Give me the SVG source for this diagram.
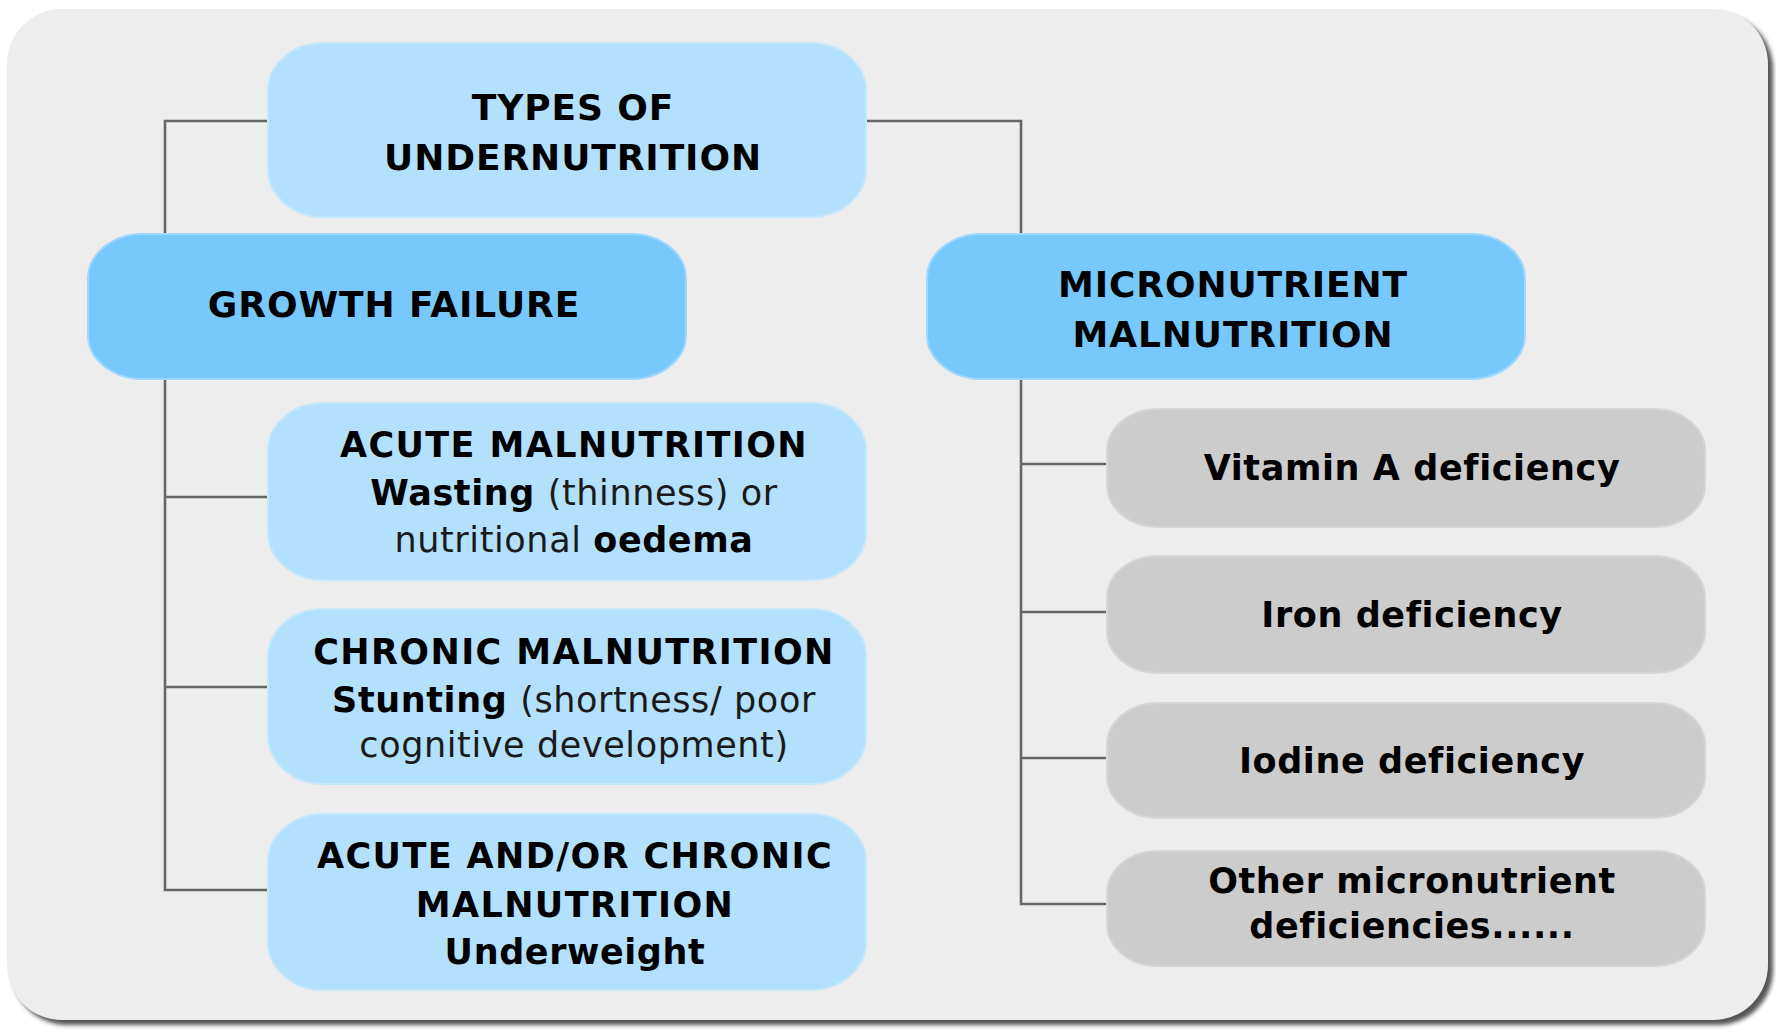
<svg xmlns="http://www.w3.org/2000/svg" width="1776" height="1034" viewBox="0 0 1776 1034">
  <defs>
    <filter id="sh" x="-5%" y="-5%" width="110%" height="110%">
      <feGaussianBlur stdDeviation="2.2"/>
    </filter>
    <style>
      .light { fill: #b3e0fd; stroke: #c4e7fc; stroke-width: 2; }
      .mid { fill: #77c8fd; stroke: #a0d7fc; stroke-width: 2; }
      .gray { fill: #cccccc; stroke: #d6d6d6; stroke-width: 2; }
      .conn { fill: none; stroke: #666666; stroke-width: 2.6; }
      text { font-family: "DejaVu Sans", Verdana, sans-serif; font-weight: bold; fill: #000000; text-anchor: middle; font-size: 35px; letter-spacing: 0.6px; }
      .big { font-size: 36px; letter-spacing: 0.9px; }
      .caps { letter-spacing: 1.4px; }
      .n { font-weight: normal; fill: #1a1a1a; }
    </style>
  </defs>
  <rect x="0" y="0" width="1776" height="1034" fill="#ffffff"/>
  <rect x="12" y="14" width="1761" height="1011" rx="55" ry="55" fill="#555555" filter="url(#sh)"/>
  <rect x="7" y="9" width="1761" height="1011" rx="55" ry="55" fill="#ededed"/>

  <g id="connectors">
    <path class="conn" d="M268,121 H165 V234"/>
    <path class="conn" d="M165,379 V890 H268"/>
    <path class="conn" d="M165,497 H268"/>
    <path class="conn" d="M165,687 H268"/>
    <path class="conn" d="M866,121 H1021 V234"/>
    <path class="conn" d="M1021,379 V904 H1107"/>
    <path class="conn" d="M1021,464 H1107"/>
    <path class="conn" d="M1021,612 H1107"/>
    <path class="conn" d="M1021,758 H1107"/>
  </g>

  <g id="types">
    <rect class="light" x="268" y="43" width="598" height="174" rx="55" ry="48"/>
    <text class="big" x="573" y="120">TYPES OF</text>
    <text class="big" x="573" y="170">UNDERNUTRITION</text>
  </g>

  <g id="growth">
    <rect class="mid" x="88" y="234" width="598" height="145" rx="55" ry="44"/>
    <text class="big" x="394" y="317">GROWTH FAILURE</text>
  </g>

  <g id="micronutrient">
    <rect class="mid" x="927" y="234" width="598" height="145" rx="55" ry="44"/>
    <text class="big" x="1233" y="296.5">MICRONUTRIENT</text>
    <text class="big" x="1233" y="346.5">MALNUTRITION</text>
  </g>

  <g id="acute">
    <rect class="light" x="268" y="403" width="598" height="177" rx="55" ry="48"/>
    <text class="caps" x="574" y="457">ACUTE MALNUTRITION</text>
    <text x="574" y="505">Wasting <tspan class="n">(thinness) or</tspan></text>
    <text x="574" y="552"><tspan class="n">nutritional </tspan>oedema</text>
  </g>

  <g id="chronic">
    <rect class="light" x="268" y="609" width="598" height="175" rx="55" ry="48"/>
    <text class="caps" x="574" y="663.5">CHRONIC MALNUTRITION</text>
    <text x="574" y="711.5">Stunting <tspan class="n">(shortness/ poor</tspan></text>
    <text x="574" y="757" class="n">cognitive development)</text>
  </g>

  <g id="underweight">
    <rect class="light" x="268" y="814" width="598" height="176" rx="55" ry="48"/>
    <text class="caps" x="575" y="868">ACUTE AND/OR CHRONIC</text>
    <text class="caps" x="575" y="916.5">MALNUTRITION</text>
    <text x="575" y="964">Underweight</text>
  </g>

  <g id="vitamin-a">
    <rect class="gray" x="1107" y="409" width="598" height="118" rx="50" ry="42"/>
    <text x="1412" y="480">Vitamin A deficiency</text>
  </g>

  <g id="iron">
    <rect class="gray" x="1107" y="556" width="598" height="117" rx="50" ry="42"/>
    <text x="1412" y="627">Iron deficiency</text>
  </g>

  <g id="iodine">
    <rect class="gray" x="1107" y="703" width="598" height="115" rx="50" ry="42"/>
    <text x="1412" y="773">Iodine deficiency</text>
  </g>

  <g id="other">
    <rect class="gray" x="1107" y="851" width="598" height="115" rx="50" ry="42"/>
    <text x="1412" y="893">Other micronutrient</text>
    <text x="1412" y="938">deficiencies......</text>
  </g>
</svg>
